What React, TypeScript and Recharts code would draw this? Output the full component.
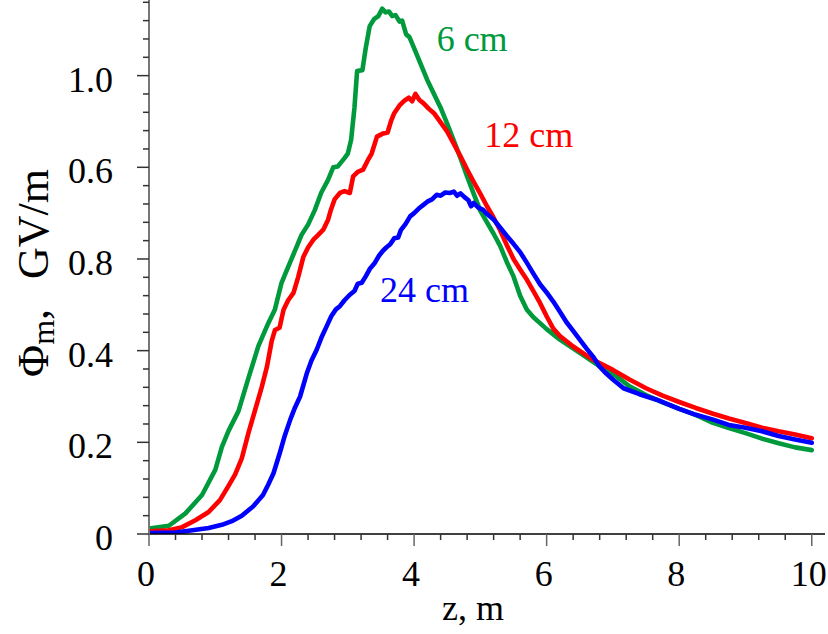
import React from 'react';
import { LineChart, Line, XAxis, YAxis, ReferenceDot } from 'recharts';

// ---- data (z in m, Phi_m in GV/m along the linear axis) ----
const z6 = [0, 0.3, 0.55, 0.8, 1.0, 1.1, 1.2, 1.35, 1.5, 1.65, 1.8, 1.9, 2.0, 2.1, 2.2, 2.3, 2.4, 2.5, 2.6, 2.7, 2.78, 2.85, 2.95, 3.0, 3.05, 3.1, 3.14, 3.22, 3.27, 3.33, 3.4, 3.46, 3.52, 3.57, 3.62, 3.67, 3.72, 3.78, 3.82, 3.88, 3.93, 4.0, 4.1, 4.2, 4.3, 4.4, 4.5, 4.6, 4.7, 4.8, 4.9, 5.0, 5.1, 5.2, 5.3, 5.4, 5.5, 5.6, 5.7, 5.8, 5.9, 6.0, 6.2, 6.5, 6.8, 7.0, 7.25, 7.5, 7.75, 8.0, 8.25, 8.5, 8.75, 9.0, 9.25, 9.5, 9.75, 10.0];
const phi6 = [0.012, 0.018, 0.045, 0.085, 0.14, 0.19, 0.225, 0.268, 0.34, 0.41, 0.46, 0.49, 0.548, 0.583, 0.617, 0.652, 0.675, 0.706, 0.745, 0.772, 0.8, 0.802, 0.82, 0.83, 0.86, 0.93, 1.01, 1.012, 1.06, 1.108, 1.124, 1.13, 1.146, 1.138, 1.14, 1.13, 1.132, 1.118, 1.12, 1.09, 1.084, 1.06, 1.025, 0.99, 0.96, 0.93, 0.895, 0.858, 0.82, 0.78, 0.742, 0.705, 0.68, 0.655, 0.628, 0.593, 0.562, 0.52, 0.49, 0.473, 0.46, 0.447, 0.424, 0.395, 0.366, 0.35, 0.322, 0.303, 0.287, 0.273, 0.26, 0.243, 0.231, 0.22, 0.208, 0.198, 0.189, 0.183];

const z12 = [0, 0.3, 0.5, 0.7, 0.9, 1.07, 1.2, 1.3, 1.4, 1.5, 1.6, 1.7, 1.78, 1.85, 1.9, 1.97, 2.03, 2.1, 2.18, 2.25, 2.33, 2.4, 2.48, 2.55, 2.63, 2.7, 2.74, 2.8, 2.88, 2.95, 3.03, 3.08, 3.15, 3.23, 3.3, 3.36, 3.44, 3.52, 3.6, 3.65, 3.7, 3.78, 3.85, 3.92, 3.97, 4.02, 4.08, 4.14, 4.22, 4.3, 4.4, 4.5, 4.6, 4.7, 4.8, 4.9, 5.0, 5.1, 5.2, 5.3, 5.4, 5.5, 5.6, 5.7, 5.8, 5.9, 6.0, 6.1, 6.2, 6.4, 6.7, 7.0, 7.25, 7.5, 7.75, 8.0, 8.25, 8.5, 8.75, 9.0, 9.25, 9.5, 9.75, 10.0];
const phi12 = [0.006, 0.008, 0.015, 0.03, 0.048, 0.074, 0.105, 0.13, 0.165, 0.22, 0.27, 0.32, 0.365, 0.42, 0.445, 0.45, 0.489, 0.51, 0.526, 0.56, 0.605, 0.625, 0.642, 0.652, 0.664, 0.685, 0.705, 0.73, 0.744, 0.748, 0.744, 0.78, 0.79, 0.795, 0.815, 0.83, 0.867, 0.873, 0.876, 0.9, 0.918, 0.935, 0.945, 0.952, 0.944, 0.96, 0.947, 0.94, 0.928, 0.918, 0.898, 0.878, 0.851, 0.824, 0.795, 0.768, 0.742, 0.715, 0.69, 0.662, 0.63, 0.6, 0.577, 0.555, 0.53, 0.504, 0.475, 0.448, 0.432, 0.409, 0.38, 0.358, 0.337, 0.318, 0.302, 0.288, 0.275, 0.263, 0.252, 0.242, 0.232, 0.224, 0.217, 0.209];

const z24 = [0, 0.4, 0.6, 0.9, 1.1, 1.25, 1.4, 1.57, 1.72, 1.8, 1.88, 1.98, 2.05, 2.13, 2.2, 2.28, 2.38, 2.45, 2.53, 2.6, 2.68, 2.75, 2.82, 2.88, 2.95, 3.03, 3.1, 3.15, 3.21, 3.27, 3.33, 3.4, 3.47, 3.53, 3.58, 3.64, 3.7, 3.76, 3.8, 3.87, 3.94, 4.0, 4.07, 4.14, 4.2, 4.27, 4.34, 4.4, 4.47, 4.54, 4.6, 4.65, 4.7, 4.76, 4.82, 4.86, 4.9, 4.97, 5.04, 5.1, 5.2, 5.3, 5.4, 5.5, 5.6, 5.7, 5.8, 5.9, 6.0, 6.1, 6.2, 6.3, 6.4, 6.5, 6.6, 6.7, 6.8, 6.9, 7.0, 7.16, 7.4, 7.66, 8.0, 8.25, 8.5, 8.75, 9.0, 9.25, 9.5, 9.75, 10.0];
const phi24 = [0.002, 0.003, 0.007, 0.013, 0.02, 0.028, 0.04, 0.06, 0.085, 0.108, 0.133, 0.18, 0.215, 0.249, 0.275, 0.3, 0.35, 0.378, 0.402, 0.428, 0.453, 0.475, 0.49, 0.497, 0.51, 0.522, 0.53, 0.546, 0.548, 0.562, 0.578, 0.59, 0.607, 0.618, 0.625, 0.632, 0.645, 0.647, 0.663, 0.676, 0.693, 0.7, 0.71, 0.718, 0.725, 0.73, 0.74, 0.738, 0.745, 0.744, 0.747, 0.738, 0.743, 0.735, 0.728, 0.715, 0.722, 0.712, 0.707, 0.698, 0.686, 0.668, 0.65, 0.633, 0.615, 0.592, 0.568, 0.545, 0.527, 0.507, 0.485, 0.462, 0.443, 0.424, 0.405, 0.387, 0.365, 0.35, 0.337, 0.318, 0.305, 0.293, 0.273, 0.26, 0.25, 0.238, 0.232, 0.224, 0.214, 0.206, 0.199];

const seriesNames = ['6 cm', '12 cm', '24 cm'];
const seriesColors = ['#009a3d', '#ff0000', '#0000ff'];
const labelZ = [4.34, 5.06, 3.486];
const labelPhi = [1.054, 0.845, 0.507];

const xMajorTicks = [0, 2, 4, 6, 8, 10];
const xTickLabels = ['0', '2', '4', '6', '8', '10'];
const yMajorTicks = [0, 0.2, 0.4, 0.6, 0.8, 1.0];
const yTickLabels = ['0', '0.2', '0.4', '0.8', '0.6', '1.0'];
const xTitle = 'z, m';
const yTitleSymbol = 'Φ';
const yTitleSub = 'm';
const yTitleUnit = 'GV/m';

const toRows = (zs: number[], vs: number[]) => zs.map((z, i) => ({ z, v: vs[i] }));
const seriesData = [toRows(z6, phi6), toRows(z12, phi12), toRows(z24, phi24)];

const X_MINOR = 0.4;
const Y_MINOR = 0.04;
const xAllTicks = Array.from({ length: 26 }, (_, i) => Math.round(i * X_MINOR * 100) / 100);
const yAllTicks = Array.from({ length: 30 }, (_, i) => Math.round(i * Y_MINOR * 100) / 100);

const FONT = '"Liberation Serif", "Times New Roman", serif';
const TICK_COLOR = '#333';

const XTick = (props: any) => {
  const { x, y, payload } = props;
  const v = payload.value;
  const idx = xMajorTicks.findIndex((t) => Math.abs(t - v) < 1e-6);
  const major = idx >= 0;
  return (
    <g>
      <line x1={x} x2={x} y1={y} y2={y + (major ? 12 : 6)} stroke={major ? '#666' : TICK_COLOR} strokeWidth={1.5} />
      {major && (
        <text x={x - 3} y={y + 52} textAnchor="middle" fontFamily={FONT} fontSize={36} fill="#000">
          {xTickLabels[idx]}
        </text>
      )}
    </g>
  );
};

const YTick = (props: any) => {
  const { x, y, payload } = props;
  const v = payload.value;
  const idx = yMajorTicks.findIndex((t) => Math.abs(t - v) < 1e-6);
  const major = idx >= 0;
  return (
    <g>
      <line x1={x - (major ? 12 : 6)} x2={x} y1={y} y2={y} stroke={TICK_COLOR} strokeWidth={1.5} />
      {major && (
        <text x={x - 36} y={y + 16} textAnchor="end" fontFamily={FONT} fontSize={36} fill="#000">
          {yTickLabels[idx]}
        </text>
      )}
    </g>
  );
};

const YTitle = (props: any) => {
  const vb = props.viewBox || { x: 99, y: 0, width: 50, height: 534 };
  const cx = vb.x - 51;
  const cy = vb.y + vb.height / 2 + 6;
  return (
    <text
      x={cx}
      y={cy}
      transform={`rotate(-90, ${cx}, ${cy})`}
      textAnchor="middle"
      fontFamily={FONT}
      fontSize={44}
      fill="#000"
    >
      <tspan>{yTitleSymbol}</tspan>
      <tspan fontSize={32} dy={6}>{yTitleSub}</tspan>
      <tspan dy={-6}>,</tspan>
      <tspan dx={30}>{yTitleUnit}</tspan>
    </text>
  );
};

const XTitle = (props: any) => {
  const vb = props.viewBox || { x: 149, y: 534, width: 676, height: 30 };
  return (
    <text x={473} y={vb.y + 86} textAnchor="middle" fontFamily={FONT} fontSize={36} fill="#000">
      {xTitle}
    </text>
  );
};

const seriesLabelShape = (i: number) => (p: any) => (
  <text x={p.cx} y={p.cy} fontFamily={FONT} fontSize={36} fill={seriesColors[i]}>
    {seriesNames[i]}
  </text>
);

export default function App() {
  return (
    <div style={{ position: 'absolute', left: 0, top: 0, width: 828, height: 634, background: '#fff' }}>
      <LineChart width={828} height={634} margin={{ top: 0, right: 3, bottom: 70, left: 99 }}>
        <XAxis
          dataKey="z"
          type="number"
          domain={[0, 10.2]}
          ticks={xAllTicks}
          interval={0}
          height={30}
          tickSize={0}
          tickMargin={0}
          tickLine={false}
          axisLine={{ stroke: '#000', strokeWidth: 1.5 }}
          tick={<XTick />}
          label={<XTitle />}
          allowDataOverflow
        />
        <YAxis
          type="number"
          domain={[0, 1.165]}
          ticks={yAllTicks}
          interval={0}
          width={50}
          tickSize={0}
          tickMargin={0}
          tickLine={false}
          axisLine={{ stroke: '#777', strokeWidth: 2 }}
          tick={<YTick />}
          label={<YTitle />}
          allowDataOverflow
        />
        {seriesData.map((d, i) => (
          <Line
            key={seriesNames[i]}
            data={d}
            dataKey="v"
            type="linear"
            stroke={seriesColors[i]}
            strokeWidth={4.6}
            strokeLinejoin="round"
            strokeLinecap="round"
            dot={false}
            activeDot={false}
            isAnimationActive={false}
          />
        ))}
        {seriesNames.map((n, i) => (
          <ReferenceDot key={n} x={labelZ[i]} y={labelPhi[i]} r={0} shape={seriesLabelShape(i)} />
        ))}
      </LineChart>
    </div>
  );
}
